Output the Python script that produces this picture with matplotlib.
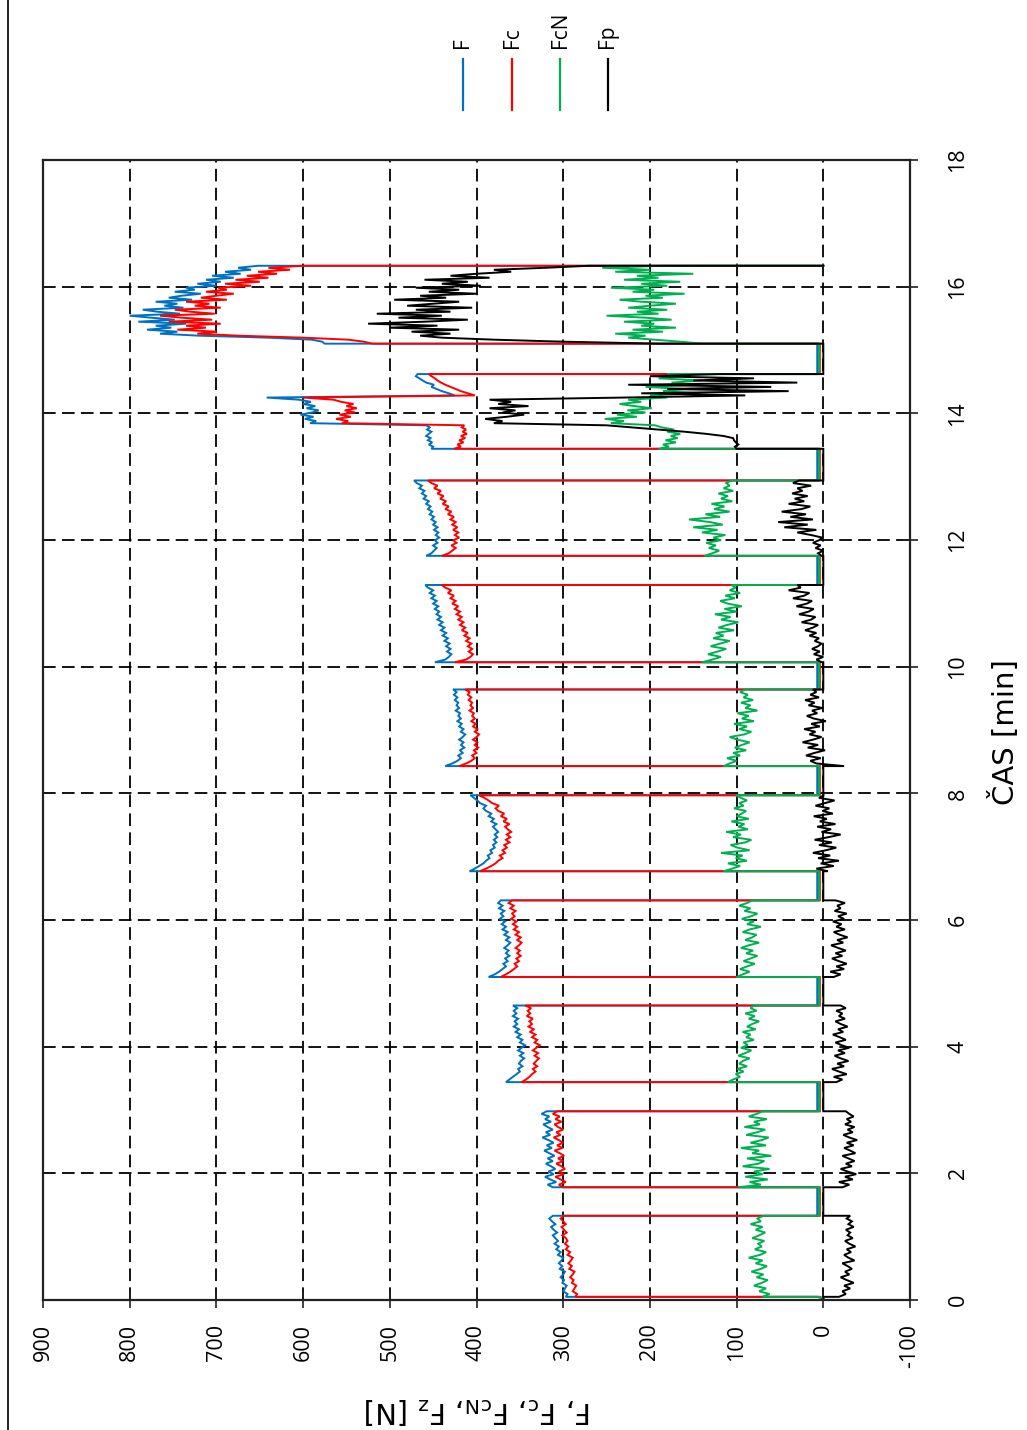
import numpy as np
import matplotlib
matplotlib.use("Agg")
import matplotlib.pyplot as plt
from matplotlib.lines import Line2D

plt.rcParams['font.family'] = ['Open Sans', 'DejaVu Sans']
plt.rcParams['axes.unicode_minus'] = False

# ---- measurement runs: start / end time of each run [min]
run_start = [0.05, 1.78, 3.44, 5.10, 6.77, 8.43, 10.07, 11.75, 13.44, 15.10]
run_end = [1.33, 2.98, 4.65, 6.31, 7.97, 9.64, 11.29, 12.94, 14.62, 16.33]

# force level between runs [N]
idle_F, idle_Fc, idle_FcN, idle_Fp = 7, 4, 5, 0

# ---- F [N]
F_runs = [
    [297, 295, 300, 298, 296, 301, 299, 303, 300, 298, 304, 301, 305, 302, 300, 306, 303, 308, 305, 310, 306, 309, 312, 307, 311, 314, 309, 313, 316, 312],
    [312, 318, 308, 315, 321, 311, 317, 309, 314, 320, 312, 318, 310, 316, 322, 313, 319, 311, 317, 324, 315, 320, 312, 318, 323, 314, 321, 316, 325, 319],
    [366, 362, 358, 354, 350, 352, 347, 351, 349, 345, 350, 346, 352, 348, 344, 350, 347, 353, 349, 355, 351, 357, 353, 356, 352, 358, 354, 357, 353, 358],
    [386, 379, 374, 370, 366, 369, 364, 367, 362, 366, 363, 368, 364, 361, 366, 362, 368, 364, 370, 366, 371, 367, 373, 369, 372, 368, 374, 370, 375, 372],
    [408, 402, 397, 392, 389, 385, 387, 382, 384, 379, 381, 377, 380, 376, 379, 375, 378, 381, 377, 383, 380, 386, 383, 389, 392, 389, 396, 399, 403, 407],
    [436, 428, 422, 418, 421, 416, 419, 414, 418, 415, 420, 416, 413, 418, 415, 420, 417, 422, 418, 421, 419, 424, 420, 423, 421, 425, 422, 426, 423, 427],
    [448, 436, 432, 429, 434, 430, 435, 431, 437, 433, 439, 435, 441, 437, 443, 439, 445, 441, 446, 443, 448, 444, 450, 446, 452, 448, 454, 450, 456, 459],
    [458, 452, 449, 446, 450, 445, 448, 443, 447, 444, 449, 445, 450, 447, 452, 449, 454, 451, 456, 453, 458, 455, 461, 458, 463, 460, 466, 463, 469, 472],
    [452, 450, 455, 451, 456, 453, 458, 455, 452, 457, 454, 458,
     592, 585, 598, 588, 603, 590, 582, 596, 586, 600, 591, 605,
     642,
     425, 432, 440, 446, 452, 449, 458, 462, 466, 470, 468],
    [575, 578, 590, 640, 720, 765, 745, 780, 752, 770, 735, 790, 748, 775, 800, 742, 768, 785, 738, 760,
     745, 770, 728, 755, 740, 718, 748, 725, 735, 700, 722, 695, 712, 680, 705, 672, 690, 660, 675, 652],
]

# ---- Fc [N]
Fc_runs = [
    [286, 284, 289, 287, 285, 290, 288, 292, 289, 287, 293, 290, 294, 291, 289, 295, 292, 297, 294, 298, 295, 297, 301, 296, 299, 302, 297, 300, 303, 299],
    [300, 305, 297, 303, 309, 299, 305, 298, 302, 308, 300, 306, 299, 304, 310, 301, 307, 300, 305, 311, 303, 308, 300, 306, 310, 302, 309, 304, 312, 307],
    [348, 343, 339, 336, 332, 335, 330, 334, 331, 328, 333, 329, 335, 331, 327, 333, 330, 336, 332, 338, 334, 340, 336, 339, 335, 342, 338, 341, 337, 344],
    [372, 366, 361, 357, 353, 356, 351, 354, 349, 353, 350, 355, 351, 348, 353, 349, 355, 351, 357, 353, 358, 354, 360, 356, 359, 355, 361, 357, 363, 359],
    [396, 389, 383, 378, 375, 370, 373, 367, 370, 365, 368, 362, 366, 361, 365, 360, 364, 367, 362, 369, 365, 372, 368, 375, 378, 374, 382, 386, 391, 397],
    [420, 412, 406, 402, 405, 400, 403, 398, 402, 399, 404, 400, 397, 402, 399, 404, 401, 406, 402, 405, 403, 408, 404, 407, 405, 409, 406, 410, 408, 413],
    [425, 412, 407, 404, 409, 405, 410, 406, 412, 408, 414, 410, 417, 413, 419, 415, 421, 417, 423, 419, 425, 421, 428, 424, 430, 426, 433, 429, 436, 440],
    [440, 432, 428, 424, 429, 423, 427, 420, 425, 421, 427, 422, 428, 424, 430, 426, 433, 429, 436, 432, 439, 435, 442, 438, 445, 441, 449, 445, 452, 456],
    [426, 418, 422, 415, 420, 413, 418, 411, 416, 412, 417, 414,
     555, 548, 562, 545, 558, 540, 552, 538, 550, 542, 556, 565,
     600,
     402, 410, 418, 424, 430, 436, 441, 445, 448, 452, 455],
    [520, 530, 548, 600, 675, 722, 700, 745, 712, 735, 695, 755, 705, 740, 765, 702, 730, 748, 695, 725,
     708, 735, 688, 718, 700, 680, 712, 688, 698, 660, 690, 650, 678, 640, 665, 630, 652, 615, 640, 600],
]

# ---- FcN [N]
FcN_runs = [
    [70, 62, 74, 66, 80, 71, 64, 77, 69, 83, 72, 65, 78, 70, 86, 73, 66, 79, 71, 75, 68, 82, 74, 67, 78, 70, 84, 72, 76, 69],
    [98, 72, 85, 64, 90, 70, 80, 62, 93, 75, 68, 88, 60, 82, 74, 95, 66, 84, 71, 63, 89, 76, 67, 91, 73, 80, 65, 86, 77, 70],
    [110, 104, 96, 101, 92, 99, 88, 97, 93, 85, 98, 90, 83, 95, 87, 92, 80, 89, 84, 93, 78, 88, 82, 74, 86, 79, 90, 77, 84, 80],
    [100, 93, 85, 96, 88, 79, 92, 84, 76, 89, 81, 95, 86, 74, 90, 82, 77, 93, 85, 72, 88, 80, 94, 83, 76, 91, 84, 97, 88, 82],
    [115, 105, 96, 110, 88, 101, 93, 118, 85, 99, 107, 90, 83, 104, 95, 112, 87, 98, 91, 106, 86, 100, 94, 89, 103, 92, 97, 88, 95, 101],
    [115, 108, 100, 111, 96, 104, 89, 102, 94, 85, 99, 108, 91, 83, 97, 88, 103, 80, 94, 86, 99, 76, 90, 84, 95, 81, 92, 87, 96, 90],
    [140, 128, 118, 133, 122, 112, 130, 119, 108, 127, 115, 124, 103, 121, 111, 98, 118, 107, 125, 100, 114, 94, 110, 119, 102, 113, 96, 108, 101, 106],
    [137, 128, 120, 132, 124, 135, 118, 127, 113, 140, 122, 150, 116, 131, 155, 119, 136, 108, 126, 114, 129, 105, 118, 110, 121, 104, 115, 108, 112, 106],
    [190, 178, 185, 170, 182, 168, 176, 165, 180, 172, 186, 194,
     245, 230, 252, 215, 238, 205, 226, 198, 218, 235, 210, 225,
     180,
     200, 145, 185, 160, 205, 150, 175, 140, 190, 165, 180],
    [140, 165, 195, 225, 205, 240, 185, 220, 170, 210, 195, 230, 175, 205, 250, 190, 215, 180, 225, 200,
     170, 210, 235, 185, 205, 160, 220, 195, 245, 180, 210, 165, 230, 190, 215, 150, 240, 200, 255, 185],
]

# ---- Fp [N]
Fp_runs = [
    [-18, -26, -22, -31, -24, -35, -27, -20, -30, -25, -33, -28, -22, -36, -29, -24, -32, -27, -37, -30, -25, -34, -28, -31, -26, -35, -29, -33, -27, -31],
    [-22, -30, -18, -34, -25, -38, -28, -20, -33, -26, -36, -29, -22, -37, -31, -24, -35, -27, -39, -30, -23, -34, -28, -36, -25, -32, -27, -35, -30, -26],
    [-15, -22, -12, -27, -18, -10, -24, -16, -29, -20, -13, -25, -17, -30, -21, -14, -26, -19, -11, -23, -17, -28, -20, -14, -25, -18, -22, -15, -26, -20],
    [-12, -20, -8, -24, -15, -27, -18, -10, -22, -14, -26, -17, -9, -23, -16, -28, -19, -12, -25, -15, -21, -11, -24, -17, -27, -13, -20, -16, -25, -14],
    [-5, 8, -12, 3, -18, 6, -8, 12, -3, -15, 5, -10, 10, -6, -20, 2, -9, 7, -14, 4, -4, 11, -11, 1, -7, 9, -2, -13, 5, -1],
    [-24, 8, 15, 3, 20, 10, -2, 18, 6, 24, 12, 2, 16, 9, 22, 4, 14, -3, 11, 19, 7, 13, 1, 17, 10, 21, 5, 15, 8, 12],
    [2, 8, 0, 11, 4, 13, 6, 2, 10, 5, 16, 8, 21, 12, 6, 25, 14, 9, 28, 17, 11, 31, 19, 13, 35, 22, 16, 40, 26, 30],
    [2, 6, 0, 9, 3, 12, 5, 1, 14, 30, 8, 45, 18, 52, 12, 38, 20, 48, 25, 15, 40, 22, 33, 18, 36, 24, 30, 14, 35, 28],
    [100, 102, 98, 101, 103, 104, 115, 135, 160, 190, 220, 250,
     380, 370, 390, 365, 345, 370, 355, 385, 340, 375, 360, 385,
     230,
     90, 210, 40, 180, 60, 225, 30, 150, 80, 200, 120],
    [190, 300, 380, 440, 465, 430, 475, 420, 500, 445, 525, 460, 410, 490, 440, 515, 430, 470, 405, 480,
     450, 420, 495, 435, 465, 400, 455, 420, 470, 395, 440, 410, 460, 385, 430, 400, 360, 380, 320, 270],
]

series_names = ["F", "Fc", "FcN", "Fp"]
series_colors = ["#0070C0", "#FF0000", "#00B050", "#000000"]


def assemble(runs, idle):
    """Join the runs into one time series with idle levels between them."""
    t = [0.02]
    v = [0.0]
    for k, vals in enumerate(runs):
        ts = np.linspace(run_start[k], run_end[k], len(vals))
        t += [run_start[k]] + list(ts) + [run_end[k]]
        last = 0.0 if k == len(runs) - 1 else idle
        v += [idle] + list(vals) + [last]
    return np.array(t), np.array(v, dtype=float)


W, H = 1027, 1430
fig = plt.figure(figsize=(W / 100, H / 100), dpi=100)

# plot area in pixel coordinates
x0, x1, y0, y1 = 43, 910, 160, 1300
ax = fig.add_axes([x0 / W, 1 - y1 / H, (x1 - x0) / W, (y1 - y0) / H])

for runs, idle, name, col in zip([F_runs, Fc_runs, FcN_runs, Fp_runs],
                                 [idle_F, idle_Fc, idle_FcN, idle_Fp],
                                 series_names, series_colors):
    t, v = assemble(runs, idle)
    ax.plot(v, t, color=col, lw=1.4, label=name, solid_joinstyle='miter')

ax.set_xlim(900, -100)
ax.set_ylim(0, 18)
ax.set_xticks(np.arange(-100, 901, 100))
ax.set_yticks(np.arange(0, 19, 2))
ax.grid(True, color='black', linestyle=(0, (7, 3.5)), lw=1.3)
ax.set_axisbelow(True)
for s in ax.spines.values():
    s.set_color('#222222')
    s.set_linewidth(1.6)

ax.yaxis.tick_right()
ax.tick_params(axis='both', direction='inout', length=12, width=1.2, color='#222222')
ax.tick_params(axis='x', labelrotation=90, pad=11, labelsize=15.5)
ax.tick_params(axis='y', labelrotation=90, pad=21, labelsize=15.5)
for lbl in ax.get_yticklabels():
    lbl.set_verticalalignment('center')

# axis titles
fig.text(1005 / W, 1 - 732 / H, "ČAS [min]", rotation=90, ha='center', va='center',
         fontsize=21, family=['Liberation Sans Narrow', 'DejaVu Sans'])
fig.text(478 / W, 1 - 1410 / H, r"F, F$_\mathregular{c}$, F$_\mathregular{cN}$, F$_\mathregular{z}$ [N]",
         rotation=180, ha='center', va='center', fontsize=21,
         family=['Liberation Sans Narrow', 'DejaVu Sans'])

# legend: vertical line samples with rotated names above
leg_x = [463, 512, 560, 608]
for xp, name, col in zip(leg_x, series_names, series_colors):
    fig.add_artist(Line2D([xp / W, xp / W], [1 - 110 / H, 1 - 59 / H], color=col, lw=1.6))
    fig.text(xp / W, 1 - 48 / H, name, rotation=90, ha='center', va='bottom', fontsize=15)

# outer border line
fig.add_artist(Line2D([8 / W, 8 / W], [0, 1], color='black', lw=1.2))

fig.savefig("out.png", dpi=100)
